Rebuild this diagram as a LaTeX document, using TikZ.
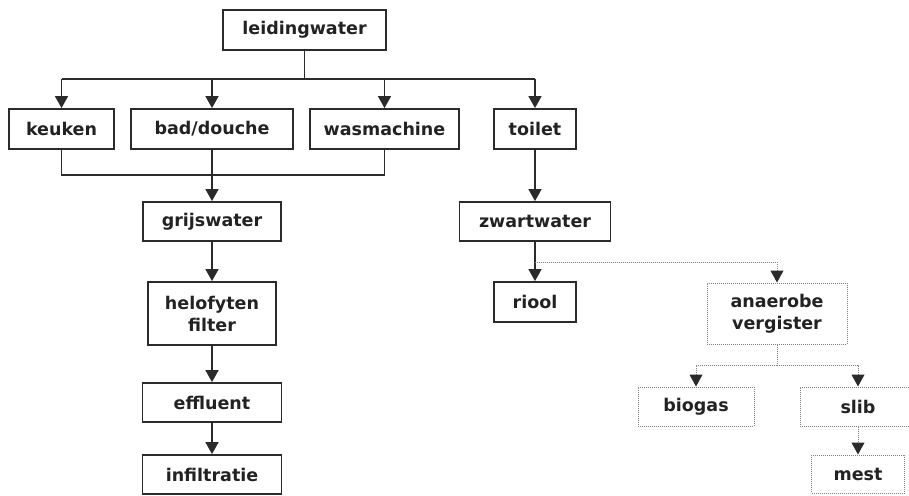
\documentclass[tikz,border=0pt]{standalone}
\usepackage{fontspec}
\setmainfont{DejaVu Sans}
\usepackage{xcolor}
\usetikzlibrary{positioning, arrows.meta}
\definecolor{cLine}{HTML}{2B2B2B}
\definecolor{cText}{HTML}{222222}
\definecolor{cDot}{HTML}{808080}

\begin{document}
\begin{tikzpicture}[x=1pt, y=-1pt,
    box/.style={draw=cLine, line width=1.8pt, text=cText, inner sep=0pt,
      font=\fontsize{17.5}{22}\selectfont\bfseries, align=center},
    dotbox/.style={box, draw=cDot, line width=1pt, dash pattern=on 1pt off 1pt},
    link/.style={draw=cLine, line width=1.4pt},
    arr/.style={link, -{Triangle[width=13pt, length=12pt, color=cLine]}},
    dotlink/.style={draw=cDot, line width=1pt, dash pattern=on 1pt off 1pt},
    dotarr/.style={dotlink, -{Triangle[width=13pt, length=12pt, color=cLine]}}]
      \useasboundingbox (0,0) rectangle (909,495);
      % household side
      \node[box, minimum width=163, minimum height=40] (leid) at (304.5,30) {leidingwater};
      \node[box, minimum width=105, minimum height=40] (keuken) at (61.5,129) {keuken};
      \node[box, minimum width=162, minimum height=40] (bad) at (212,129) {bad/douche};
      \node[box, minimum width=149, minimum height=40] (wasm) at (384.5,129) {wasmachine};
      \node[box, minimum width=82, minimum height=40] (toilet) at (535,129) {toilet};
      \coordinate (topbar) at (304.5,79);
      \coordinate (midbar) at (212,175);
      % grey water line
      \node[box, minimum width=138, minimum height=39] (grijs) at (212,221.5) {grijswater};
      \node[box, minimum width=128, minimum height=63] (helo) at (212,313.5) {helofyten\\filter};
      \node[box, minimum width=139, minimum height=39] (effl) at (212,402.5) {effluent};
      \node[box, minimum width=139, minimum height=39] (infil) at (212,474.5) {infiltratie};
      % black water line
      \node[box, minimum width=151, minimum height=39] (zwart) at (535,221.5) {zwartwater};
      \node[box, minimum width=82, minimum height=40] (riool) at (535,302) {riool};
      \coordinate (splitA) at (535,262);
      \node[dotbox, minimum width=140, minimum height=61] (anaer) at (777,313.5) {anaerobe\\vergister};
      \coordinate (splitB) at (777,365);
      \node[dotbox, minimum width=116, minimum height=39] (biogas) at (696,406.5) {biogas};
      \node[dotbox, minimum width=116, minimum height=39] (slib) at (858,406.5) {slib};
      \node[dotbox, minimum width=93, minimum height=38] (mest) at (858,474) {mest};

      \draw[link] (leid.south) -- (topbar);
      \draw[link] (keuken.north |- topbar) -- (toilet.north |- topbar);
      \foreach \n in {keuken, bad, wasm, toilet}
        \draw[arr] (\n.north |- topbar) -- (\n.north);
      \draw[link] (keuken.south) -- (keuken.south |- midbar) -- (wasm.south |- midbar) -- (wasm.south);
      \draw[link] (bad.south) -- (midbar);
      \draw[arr] (midbar) -- (grijs.north);
      \draw[arr] (grijs) -- (helo);
      \draw[arr] (helo) -- (effl);
      \draw[arr] (effl) -- (infil);
      \draw[arr] (toilet) -- (zwart);
      \draw[arr] (zwart) -- (riool);
      \draw[dotarr] (splitA) -| (anaer.north);
      \draw[dotlink] (anaer.south) -- (splitB);
      \draw[dotarr] (splitB) -| (biogas.north);
      \draw[dotarr] (splitB) -| (slib.north);
      \draw[dotarr] (slib) -- (mest);
    \end{tikzpicture}
\end{document}
